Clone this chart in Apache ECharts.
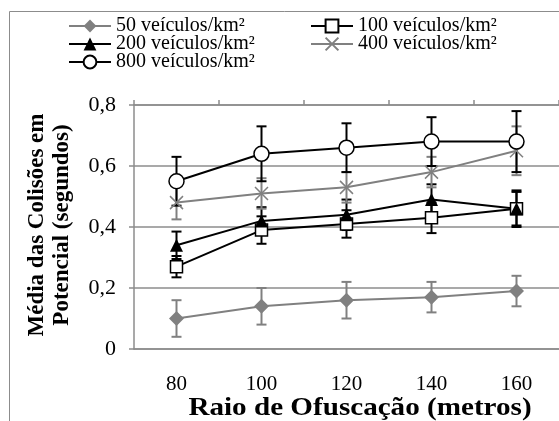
<!DOCTYPE html>
<html>
<head>
<meta charset="utf-8">
<script src="https://cdn.jsdelivr.net/npm/echarts@6/dist/echarts.min.js"></script>
<style>
  html, body { margin: 0; padding: 0; background: #fff; }
  #chart { width: 559px; height: 421px; }
</style>
</head>
<body>
<div id="chart"></div>
<script>
// raio de ofuscacao (metros)
var categories = ['80', '100', '120', '140', '160'];
var seriesNames = ['50 veículos/km²', '100 veículos/km²', '200 veículos/km²', '400 veículos/km²', '800 veículos/km²'];

// medias
var mean50 = [0.10, 0.14, 0.16, 0.17, 0.19];
var mean100 = [0.27, 0.39, 0.41, 0.43, 0.46];
var mean200 = [0.34, 0.42, 0.44, 0.49, 0.46];
var mean400 = [0.48, 0.51, 0.53, 0.58, 0.65];
var mean800 = [0.55, 0.64, 0.66, 0.68, 0.68];

// barras de erro (+/-)
var err50 = [0.06, 0.06, 0.06, 0.05, 0.05];
var err100 = [0.035, 0.045, 0.045, 0.05, 0.055];
var err200 = [0.045, 0.045, 0.05, 0.05, 0.06];
var err400 = [0.055, 0.05, 0.05, 0.05, 0.08];
var err800 = [0.08, 0.09, 0.08, 0.08, 0.10];

var yTicks = [0, 0.2, 0.4, 0.6, 0.8];

var FONT = '"Liberation Serif", "Times New Roman", serif';
var GRAY = '#808080';
var BLACK = '#000000';
var GRID = '#8c8c8c';

var myChart = echarts.init(document.getElementById('chart'));

function errData(mean, err) {
    return mean.map(function (v, i) {
        return [i, v - err[i], v + err[i]];
    });
}

// barras de erro com tampas
function errSeries(mean, err, color) {
    return {
        type: 'custom',
        z: 1,
        silent: true,
        data: errData(mean, err),
        renderItem: function (params, api) {
            var top = api.coord([api.value(0), api.value(2)]);
            var bot = api.coord([api.value(0), api.value(1)]);
            var w = 5;
            var st = { stroke: color, lineWidth: 2 };
            return {
                type: 'group',
                children: [
                    { type: 'line', shape: { x1: top[0], y1: top[1], x2: bot[0], y2: bot[1] }, style: st },
                    { type: 'line', shape: { x1: top[0] - w, y1: top[1], x2: top[0] + w, y2: top[1] }, style: st },
                    { type: 'line', shape: { x1: bot[0] - w, y1: bot[1], x2: bot[0] + w, y2: bot[1] }, style: st }
                ]
            };
        }
    };
}

function lineSeries(name, data, color, symbol, size, fill) {
    return {
        name: name,
        type: 'line',
        z: 3,
        data: data,
        symbol: symbol,
        symbolSize: size,
        showAllSymbol: true,
        lineStyle: { color: color, width: 2 },
        itemStyle: { color: fill, borderColor: color, borderWidth: fill === color ? 0 : 1.5 },
        emphasis: { disabled: true }
    };
}

var crossPath = 'path://M0,0L10,10M10,0L0,10';

function legendBox(items, left) {
    return {
        data: items,
        orient: 'vertical',
        left: left,
        top: 11,
        itemWidth: 42,
        itemHeight: 16,
        itemGap: -2,
        textStyle: { fontFamily: FONT, fontSize: 20, color: '#000' }
    };
}

var option = {
    animation: false,
    textStyle: { fontFamily: FONT },
    graphic: [
        {
            type: 'rect',
            shape: { x: 9.5, y: 11.5, width: 600, height: 500 },
            style: { fill: 'none', stroke: '#8c8c8c', lineWidth: 1 },
            z: -10
        },
        {
            type: 'text',
            x: 50,
            y: 225,
            rotation: Math.PI / 2,
            style: {
                text: 'Média das Colisões em\nPotencial (segundos)',
                font: 'bold 23px ' + FONT,
                fill: '#000',
                align: 'center',
                verticalAlign: 'middle',
                lineHeight: 25
            }
        },
        {
            type: 'text',
            x: 360,
            y: 408,
            scaleX: 1.12,
            style: {
                text: 'Raio de Ofuscação (metros)',
                font: 'bold 26px ' + FONT,
                fill: '#000',
                align: 'center',
                verticalAlign: 'middle'
            }
        }
    ],
    legend: [
        legendBox([seriesNames[0], seriesNames[2], seriesNames[4]], 63),
        legendBox([seriesNames[1], seriesNames[3]], 305)
    ],
    grid: { left: 134, top: 105, width: 430, height: 244, containLabel: false },
    xAxis: [
        {
            type: 'category',
            data: categories,
            position: 'bottom',
            boundaryGap: true,
            axisLine: { lineStyle: { color: GRID, width: 1.5 } },
            axisTick: { show: false },
            axisLabel: { fontFamily: FONT, fontSize: 21, color: '#000', margin: 25 },
            splitLine: { show: false }
        },
        {
            type: 'category',
            data: categories,
            position: 'top',
            boundaryGap: true,
            axisLine: { lineStyle: { color: GRID, width: 1.5 } },
            axisTick: { show: true, length: 5, lineStyle: { color: GRID, width: 1.5 } },
            axisLabel: { show: false },
            splitLine: { show: false }
        }
    ],
    yAxis: {
        type: 'value',
        min: yTicks[0],
        max: yTicks[yTicks.length - 1],
        interval: 0.2,
        axisLine: { show: true, lineStyle: { color: GRID, width: 1.5 } },
        axisTick: { show: true, length: 5, lineStyle: { color: GRID, width: 1.5 } },
        axisLabel: {
            fontFamily: FONT, fontSize: 22, color: '#000', margin: 18,
            formatter: function (v) { return v === 0 ? '0' : v.toFixed(1).replace('.', ','); }
        },
        splitLine: { show: true, lineStyle: { color: GRID, width: 1.5 } }
    },
    series: [
        errSeries(mean50, err50, GRAY),
        errSeries(mean100, err100, BLACK),
        errSeries(mean200, err200, BLACK),
        errSeries(mean400, err400, GRAY),
        errSeries(mean800, err800, BLACK),
        lineSeries(seriesNames[0], mean50, GRAY, 'diamond', 15, GRAY),
        lineSeries(seriesNames[1], mean100, BLACK, 'rect', 12, '#fff'),
        lineSeries(seriesNames[2], mean200, BLACK, 'triangle', 13, BLACK),
        lineSeries(seriesNames[3], mean400, GRAY, crossPath, 13, '#fff'),
        lineSeries(seriesNames[4], mean800, BLACK, 'circle', 15, '#fff')
    ]
};

myChart.setOption(option);
</script>
</body>
</html>
